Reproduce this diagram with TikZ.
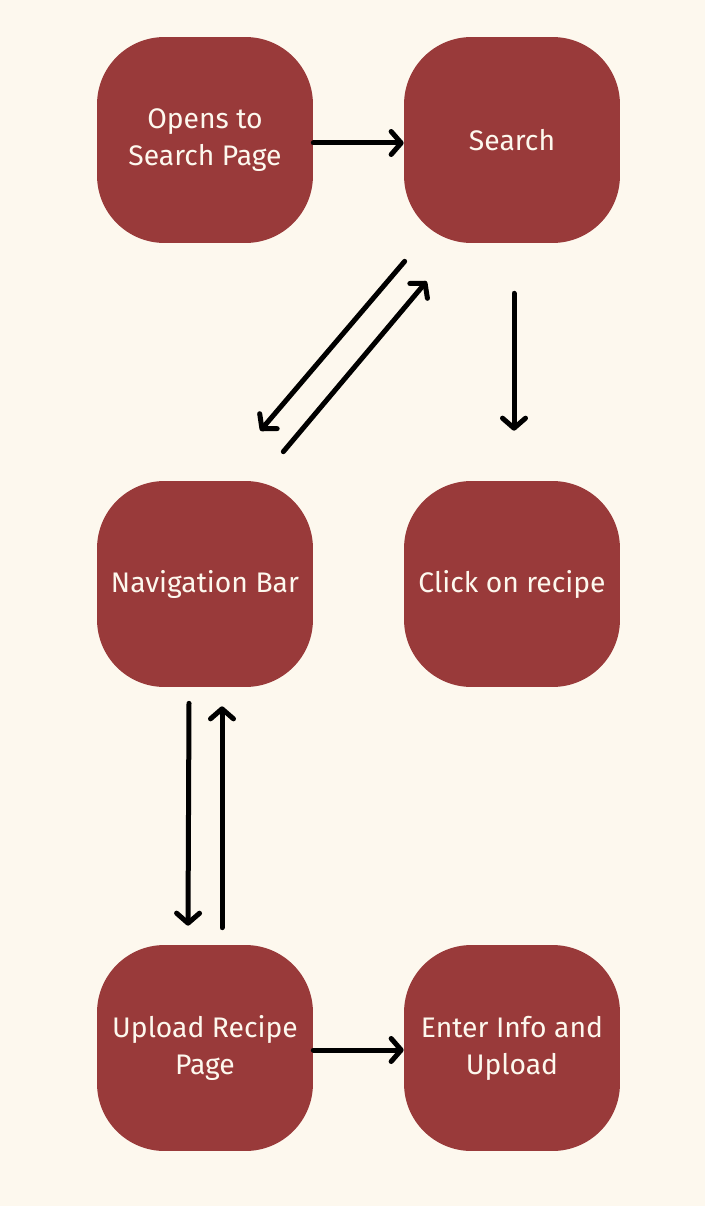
\documentclass[tikz,border=0pt]{standalone}
\usepackage{fontspec}
\setmainfont{Fira Sans}
\usetikzlibrary{arrows.meta}
\definecolor{paper}{HTML}{FDF8EE}
\definecolor{brick}{HTML}{993A3A}
\begin{document}
\begin{tikzpicture}[x=0.02cm,y=-0.02cm,
    stepbox/.style={fill=brick, text=paper, rounded corners=1.35cm,
      minimum width=4.32cm, minimum height=4.12cm, align=center,
      font=\fontsize{16.1}{21}\selectfont},
    flow/.style={line width=0.1cm, line cap=round,
      -{Straight Barb[length=0.2cm,width=0.46cm,line cap=round,line join=round]}}]
      \fill[paper] (0,0) rectangle (705,1206);
      \useasboundingbox (0,0) rectangle (705,1206);
      \node[stepbox] (open) at (205,140) {Opens to\\Search Page};
      \node[stepbox] (search) at (512,140) {Search};
      \node[stepbox] (nav) at (205,584) {Navigation Bar};
      \node[stepbox] (click) at (512,584) {Click on recipe};
      \node[stepbox] (upload) at (205,1048) {Upload Recipe\\Page};
      \node[stepbox] (enter) at (512,1048) {Enter Info and\\Upload};
    %   arrows between the boxes
      \draw[flow] ([yshift=-0.06cm]open.east) -- ([yshift=-0.06cm]search.west);
      \draw[flow] ([shift={(1,18)}]search.south west) -- ([shift={(-53,-50)}]nav.north east);
      \draw[flow] ([shift={(-30,-29)}]nav.north east) -- ([shift={(23,38)}]search.south west);
      \draw[flow, shorten <=1cm, shorten >=1cm] ([xshift=0.04cm]search.south) -- ([xshift=0.04cm]click.north);
      \draw[flow] ([shift={(-16,16)}]nav.south) -- ([shift={(-17,-19)}]upload.north);
      \draw[flow] ([shift={(17,-17)}]upload.north) -- ([shift={(17,19)}]nav.south);
      \draw[flow] ([yshift=-0.04cm]upload.east) -- ([yshift=-0.04cm]enter.west);
\end{tikzpicture}
\end{document}
